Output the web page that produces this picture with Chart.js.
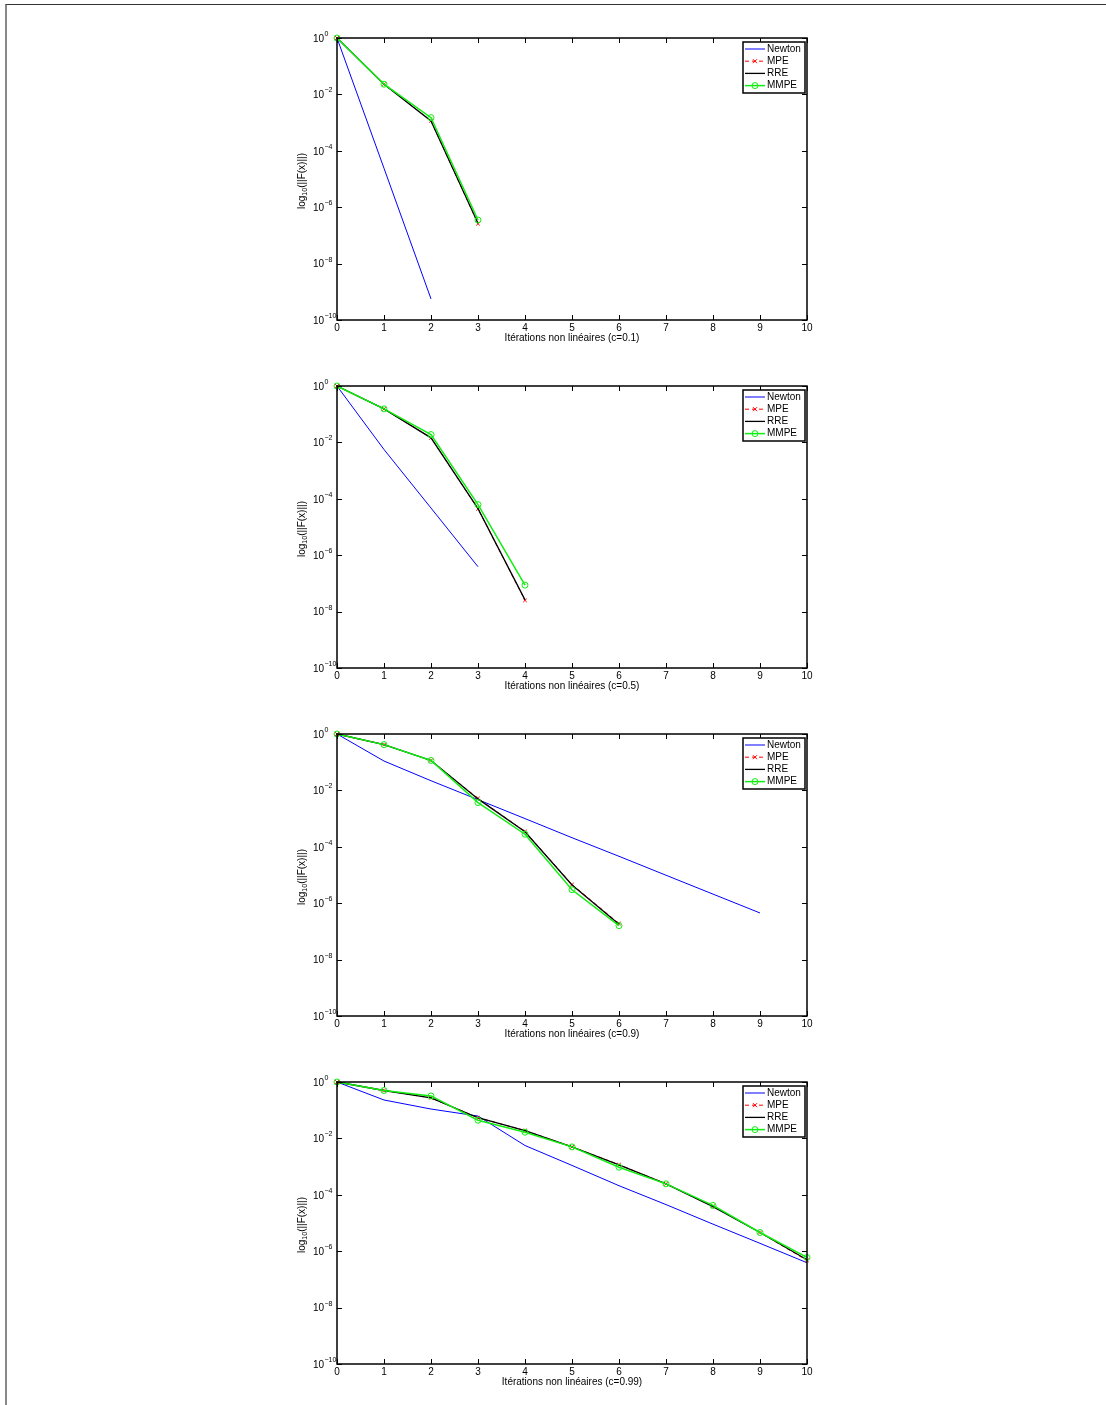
<!DOCTYPE html>
<html>
<head>
<meta charset="utf-8">
<script src="https://cdn.jsdelivr.net/npm/chart.js@4.4.1/dist/chart.umd.min.js"></script>
<style>
  html, body { margin: 0; padding: 0; background: #fff; }
  body { width: 1106px; height: 1405px; position: relative; overflow: hidden; }
  #frame { position: absolute; left: 5px; top: 4px; width: 1110px; height: 1410px; border-top: 1px solid #333; border-left: 2px solid #888; }
  .plot { position: absolute; left: 250px; width: 580px; height: 340px; }
</style>
</head>
<body>
<div id="frame"></div>
<div class="plot" style="top:20px"><canvas id="plot_0" width="580" height="340"></canvas></div>
<div class="plot" style="top:368px"><canvas id="plot_1" width="580" height="340"></canvas></div>
<div class="plot" style="top:716px"><canvas id="plot_2" width="580" height="340"></canvas></div>
<div class="plot" style="top:1064px"><canvas id="plot_3" width="580" height="340"></canvas></div>
<script>
var FONT = "'Liberation Sans', Arial, Helvetica, sans-serif";

var iterations = [0, 1, 2, 3, 4, 5, 6, 7, 8, 9, 10];
var yTickValues = [1e-10, 1e-8, 1e-6, 1e-4, 1e-2, 1];
var yTickExponents = ['\u221210', '\u22128', '\u22126', '\u22124', '\u22122', '0'];
var seriesNames = ['Newton', 'MPE', 'RRE', 'MMPE'];
var cValues = ['0.1', '0.5', '0.9', '0.99'];
var yTitleParts = ['log', '10', '(||F(x)||)'];
var xTitle = 'Itérations non linéaires';

// c = 0.1
var newton_01 = [1, 2.4e-5, 5.6e-10];
var mpe_01    = [1, 2.3e-2, 1.15e-3, 2.6e-7];
var rre_01    = [1, 2.3e-2, 1.15e-3, 2.7e-7];
var mmpe_01   = [1, 2.3e-2, 1.5e-3, 3.5e-7];

// c = 0.5
var newton_05 = [1, 5.6e-3, 4.7e-5, 3.9e-7];
var mpe_05    = [1, 1.55e-1, 1.45e-2, 4.4e-5, 2.5e-8];
var rre_05    = [1, 1.55e-1, 1.45e-2, 4.5e-5, 2.6e-8];
var mmpe_05   = [1, 1.55e-1, 1.9e-2, 6.2e-5, 8.7e-8];

// c = 0.9
var newton_09 = [1, 1.1e-1, 2.2e-2, 4.7e-3, 1.0e-3, 2.1e-4, 4.6e-5, 9.8e-6, 2.1e-6, 4.5e-7];
var mpe_09    = [1, 4.2e-1, 1.15e-1, 5.2e-3, 3.5e-4, 4.6e-6, 1.9e-7];
var rre_09    = [1, 4.2e-1, 1.15e-1, 5.0e-3, 3.4e-4, 4.4e-6, 1.8e-7];
var mmpe_09   = [1, 4.2e-1, 1.15e-1, 3.7e-3, 2.8e-4, 3.0e-6, 1.6e-7];

// c = 0.99
var newton_099 = [1, 2.3e-1, 1.1e-1, 6.2e-2, 5.6e-3, 1.1e-3, 2.1e-4, 4.5e-5, 9.1e-6, 1.9e-6, 3.9e-7];
var mpe_099    = [1, 5.0e-1, 2.75e-1, 5.4e-2, 1.9e-2, 5.0e-3, 1.17e-3, 2.45e-4, 3.9e-5, 4.6e-6, 4.7e-7];
var rre_099    = [1, 5.0e-1, 2.75e-1, 5.4e-2, 1.9e-2, 5.0e-3, 1.15e-3, 2.45e-4, 3.8e-5, 4.6e-6, 5.0e-7];
var mmpe_099   = [1, 5.0e-1, 3.2e-1, 4.4e-2, 1.66e-2, 5.0e-3, 9.5e-4, 2.45e-4, 4.2e-5, 4.6e-6, 6.0e-7];

var plots = [
  [newton_01, mpe_01, rre_01, mmpe_01],
  [newton_05, mpe_05, rre_05, mmpe_05],
  [newton_09, mpe_09, rre_09, mmpe_09],
  [newton_099, mpe_099, rre_099, mmpe_099]
];

function toPoints(values) {
  return values.map(function(v, i) { return { x: iterations[i], y: v }; });
}

// box + inward ticks on all four sides
var matlabAxes = {
  id: 'matlabAxes',
  afterDatasetsDraw: function(chart) {
    var ctx = chart.ctx, a = chart.chartArea;
    var xs = chart.scales.x, ys = chart.scales.y;
    ctx.save();
    ctx.strokeStyle = '#000';
    ctx.lineWidth = 1;
    ctx.beginPath();
    iterations.forEach(function(t) {
      var px = Math.round(xs.getPixelForValue(t)) + 0.5;
      ctx.moveTo(px, a.bottom); ctx.lineTo(px, a.bottom - 5);
      ctx.moveTo(px, a.top); ctx.lineTo(px, a.top + 5);
    });
    yTickValues.forEach(function(t) {
      var py = Math.round(ys.getPixelForValue(t)) + 0.5;
      ctx.moveTo(a.left, py); ctx.lineTo(a.left + 5, py);
      ctx.moveTo(a.right, py); ctx.lineTo(a.right - 5, py);
    });
    ctx.stroke();
    ctx.lineWidth = 1.5;
    ctx.strokeRect(a.left, a.top, a.right - a.left, a.bottom - a.top);
    ctx.restore();
  }
};

// 10^n tick labels and the log10 title, with real super/subscripts
var texLabels = {
  id: 'texLabels',
  afterDraw: function(chart) {
    var ctx = chart.ctx, a = chart.chartArea, ys = chart.scales.y;
    ctx.save();
    ctx.fillStyle = '#000';
    ctx.textAlign = 'left';
    ctx.textBaseline = 'middle';
    yTickValues.forEach(function(v, i) {
      var py = ys.getPixelForValue(v);
      ctx.font = '10px ' + FONT;
      ctx.fillText('10', a.left - 24, py + 1);
      ctx.font = '7px ' + FONT;
      ctx.fillText(yTickExponents[i], a.left - 12.5, py - 4);
    });

    ctx.translate(a.left - 35, (a.top + a.bottom) / 2 + 2);
    ctx.rotate(-Math.PI / 2);
    ctx.font = '10px ' + FONT;
    var w1 = ctx.measureText(yTitleParts[0]).width;
    var w3 = ctx.measureText(yTitleParts[2]).width;
    ctx.font = '7px ' + FONT;
    var w2 = ctx.measureText(yTitleParts[1]).width;
    var x0 = -(w1 + w2 + w3) / 2;
    ctx.font = '10px ' + FONT;
    ctx.fillText(yTitleParts[0], x0, 0);
    ctx.fillText(yTitleParts[2], x0 + w1 + w2, 0);
    ctx.font = '7px ' + FONT;
    ctx.fillText(yTitleParts[1], x0 + w1, 3);
    ctx.restore();
  }
};

function drawMarker(ctx, style, x, y, r) {
  ctx.beginPath();
  if (style === 'circle') {
    ctx.arc(x, y, r, 0, Math.PI * 2);
  } else {
    ctx.moveTo(x - r, y - r); ctx.lineTo(x + r, y + r);
    ctx.moveTo(x + r, y - r); ctx.lineTo(x - r, y + r);
  }
  ctx.stroke();
}

var boxLegend = {
  id: 'boxLegend',
  afterDraw: function(chart) {
    var ctx = chart.ctx, a = chart.chartArea;
    var w = 62, h = 51;
    var left = a.right - 2 - w, top = a.top + 4;
    ctx.save();
    ctx.fillStyle = '#fff';
    ctx.fillRect(left, top, w, h);
    ctx.strokeStyle = '#000';
    ctx.lineWidth = 1.5;
    ctx.strokeRect(left, top, w, h);
    ctx.font = '10px ' + FONT;
    ctx.textBaseline = 'middle';
    seriesNames.forEach(function(name, k) {
      var ds = chart.data.datasets[k];
      var y = top + 7 + k * 12.2;
      ctx.strokeStyle = ds.borderColor;
      ctx.lineWidth = ds.borderWidth;
      ctx.setLineDash(ds.borderDash || []);
      ctx.beginPath();
      ctx.moveTo(left + 2, y); ctx.lineTo(left + 22, y);
      ctx.stroke();
      ctx.setLineDash([]);
      if (ds.pointRadius > 0) {
        ctx.lineWidth = 1;
        drawMarker(ctx, ds.pointStyle, left + 12, y, ds.pointStyle === 'circle' ? ds.pointRadius : 2);
      }
      ctx.fillStyle = '#000';
      ctx.fillText(name, left + 24, y);
    });
    ctx.restore();
  }
};

function renderPlot(idx) {
  var series = plots[idx];
  var ctx = document.getElementById('plot_' + idx).getContext('2d');
  new Chart(ctx, {
    type: 'line',
    data: {
      datasets: [{
        label: seriesNames[0],
        data: toPoints(series[0]),
        borderColor: '#0000ff',
        borderWidth: 1,
        pointRadius: 0,
        order: 4,
        clip: false
      }, {
        label: seriesNames[1],
        data: toPoints(series[1]),
        borderColor: '#ff0000',
        borderWidth: 1,
        borderDash: [4, 3],
        pointStyle: 'crossRot',
        pointRadius: 2.5,
        pointBorderWidth: 1,
        pointBorderColor: '#ff0000',
        order: 3,
        clip: false
      }, {
        label: seriesNames[2],
        data: toPoints(series[2]),
        borderColor: '#000000',
        borderWidth: 1.3,
        pointRadius: 0,
        order: 2,
        clip: false
      }, {
        label: seriesNames[3],
        data: toPoints(series[3]),
        borderColor: '#10ee10',
        borderWidth: 1.5,
        pointStyle: 'circle',
        pointRadius: 3,
        pointBorderWidth: 1,
        pointBorderColor: '#10ee10',
        pointBackgroundColor: 'rgba(0,0,0,0)',
        order: 1,
        clip: false
      }]
    },
    options: {
      responsive: false,
      animation: false,
      devicePixelRatio: 1,
      layout: { padding: { left: 0, right: 23, top: 18, bottom: 0 } },
      plugins: { legend: { display: false }, tooltip: { enabled: false } },
      elements: { line: { tension: 0 } },
      scales: {
        x: {
          type: 'linear',
          min: 0,
          max: 10,
          grid: { display: false, drawTicks: false, tickLength: 0 },
          border: { display: false },
          afterBuildTicks: function(axis) {
            axis.ticks = iterations.map(function(v) { return { value: v }; });
          },
          afterFit: function(axis) { axis.height = 40; },
          ticks: {
            autoSkip: false,
            maxRotation: 0,
            padding: 2,
            color: '#000',
            font: { family: FONT, size: 10 },
            callback: function(v) { return String(v); }
          },
          title: {
            display: true,
            text: xTitle + ' (c=' + cValues[idx] + ')',
            color: '#000',
            font: { family: FONT, size: 10 },
            padding: { top: 0, bottom: 16 }
          }
        },
        y: {
          type: 'logarithmic',
          min: 1e-10,
          max: 1,
          grid: { display: false, drawTicks: false, tickLength: 0 },
          border: { display: false },
          afterBuildTicks: function(axis) {
            axis.ticks = yTickValues.map(function(v) { return { value: v }; });
          },
          afterFit: function(axis) { axis.width = 87; },
          ticks: { display: false },
          title: { display: false }
        }
      }
    },
    plugins: [matlabAxes, texLabels, boxLegend]
  });
}

for (var i = 0; i < plots.length; i++) {
  renderPlot(i);
}
</script>
</body>
</html>
